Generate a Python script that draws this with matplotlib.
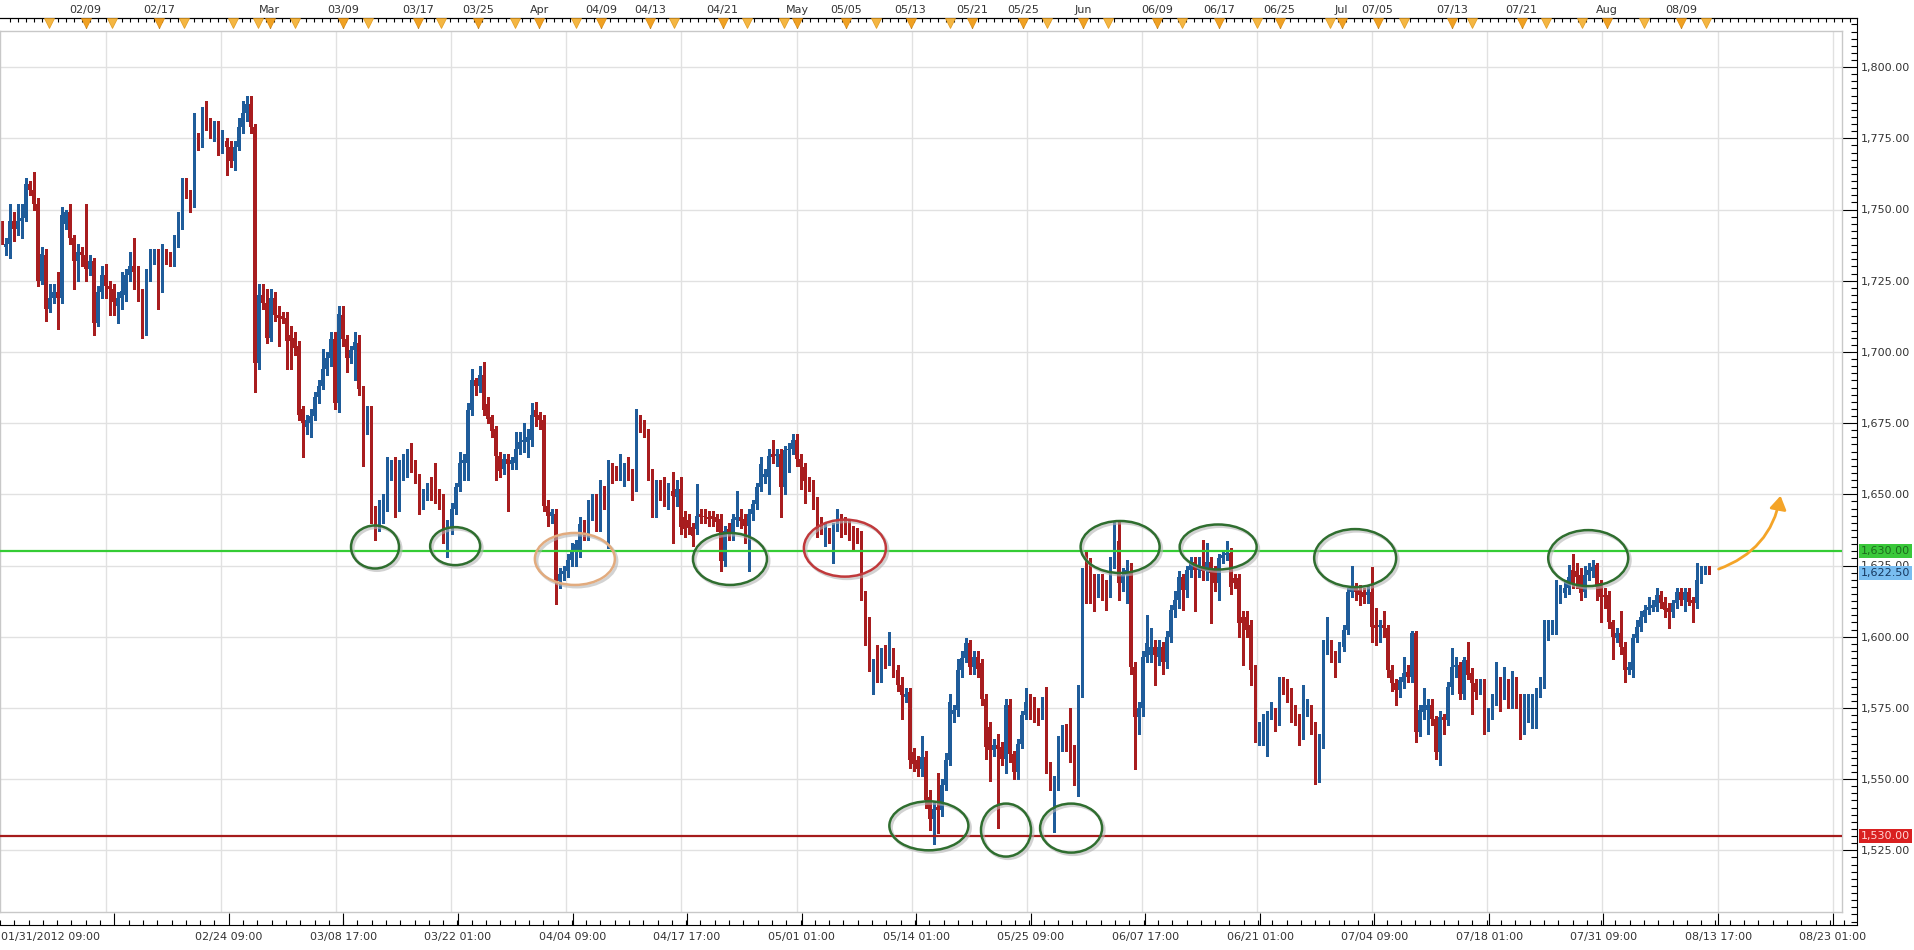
import numpy as np
import matplotlib
matplotlib.use('Agg')
import matplotlib.pyplot as plt
from matplotlib.patches import Ellipse, FancyArrowPatch
from matplotlib import transforms
from matplotlib.ticker import FuncFormatter

# candle data (8h bars)
opens = [1744, 1737, 1738, 1746, 1743, 1746, 1747, 1759, 1757, 1752, 1725, 1734, 1715, 1719, 1721, 1719, 1745, 1749, 1740, 1732,
         1735, 1734, 1729, 1732, 1710, 1721, 1727, 1723, 1722, 1716, 1719, 1720, 1727, 1730, 1728, 1720, 1708, 1727, 1733, 1734,
         1723, 1735, 1734, 1733, 1739, 1745, 1759, 1756, 1753, 1776, 1773, 1783, 1780, 1776, 1779, 1771.5, 1774, 1772, 1767, 1772,
         1779, 1784, 1787, 1779, 1696, 1720, 1717, 1705, 1719, 1713, 1712.5, 1712, 1706, 1705, 1702, 1680, 1673.5, 1675, 1677.6, 1684,
         1688, 1694, 1698, 1704.6, 1682, 1713, 1704.6, 1698, 1700.5, 1703, 1687, 1673, 1679, 1644, 1640, 1643, 1646, 1658.5, 1659.5, 1645.9,
         1659.4, 1661.7, 1664, 1660, 1656, 1646.5, 1650, 1652, 1651, 1650, 1648, 1635.5, 1638.5, 1645, 1652.5, 1661, 1661, 1679.5, 1690, 1688,
         1692, 1681.8, 1677, 1673, 1663.6, 1659, 1662.4, 1660.7, 1661, 1666, 1668.3, 1668.3, 1669, 1679.5, 1677.7, 1676, 1646, 1642.5, 1643, 1619.6,
         1621.9, 1623, 1627, 1630, 1630, 1639.6, 1636, 1643, 1647.8, 1639.6, 1651, 1645.4, 1659.5, 1658.9, 1657.2, 1657.7, 1658.9, 1657.7, 1653.6, 1675.4,
         1674.2, 1671.2, 1657.7, 1644.2, 1653.6, 1651.3, 1648.4, 1651.3, 1649, 1651.9, 1641.9, 1641, 1638.4, 1637.8, 1643.1, 1642.5, 1642, 1642.5, 1641.9, 1641.3,
         1626.6, 1637.8, 1636, 1641, 1641.9, 1641.3, 1639, 1643.1, 1646.6, 1652.5, 1656, 1656, 1664.2, 1663.6, 1664.2, 1652.5, 1665.4, 1666, 1668.9, 1662.4,
         1659.5, 1654.8, 1653, 1647.8, 1640.1, 1637.2, 1636.6, 1634.9, 1638.4, 1641.3, 1640.1, 1637.8, 1637.2, 1637.2, 1635.4, 1615, 1606, 1587, 1590, 1586,
         1594.7, 1592.4, 1594.1, 1588.3, 1583, 1579, 1580.6, 1559.5, 1556.6, 1553.6, 1557.8, 1543.7, 1536, 1540.1, 1539, 1547.8, 1556.6, 1573, 1574.2, 1588.3,
         1592.4, 1597.7, 1589.4, 1593, 1590.6, 1578.3, 1568.3, 1560.1, 1561.9, 1561.3, 1557.2, 1575.9, 1558.9, 1552.5, 1562.4, 1572.4, 1577.7, 1577.1, 1573.6, 1573,
         1576.5, 1554.8, 1548.4, 1548.4, 1562.4, 1566, 1566, 1560.7, 1557.2, 1581.2, 1622.3, 1621.1, 1620, 1618.2, 1620, 1617.6, 1616.4, 1625.8, 1633.5, 1618.8,
         1621.7, 1622.9, 1589.4, 1571.8, 1574.8, 1593, 1593.5, 1596.5, 1593, 1596.5, 1591.2, 1600, 1609.4, 1612.9, 1621.1, 1616.4, 1623.5, 1626.4, 1623.5, 1624.1,
         1622.9, 1626.4, 1623.5, 1618.8, 1627.6, 1628.8, 1629.3, 1620.5, 1620.5, 1607, 1607, 1604.1, 1588.3, 1565.4, 1567.1, 1566, 1573, 1573.6, 1570.7, 1584.2,
         1583.6, 1580, 1573, 1571.8, 1565.4, 1573.6, 1574.8, 1568.3, 1551.9, 1563, 1596.5, 1597.7, 1593.5, 1593, 1596.5, 1602.3, 1615.8, 1617, 1616.4, 1615.8,
         1614.7, 1615.8, 1604.1, 1603.5, 1604.1, 1602.9, 1588.3, 1583.6, 1581.2, 1584.2, 1587.7, 1585.9, 1601.2, 1566.5, 1573.6, 1574.2, 1575.9, 1571.2, 1559.5, 1571.8,
         1570.7, 1582.4, 1589.4, 1590, 1580, 1591.8, 1587.1, 1583.6, 1583, 1583.6, 1569.5, 1573, 1578.3, 1583.6, 1581.2, 1583, 1577.1, 1583.6, 1578.3, 1568.3,
         1577.7, 1578.3, 1578.9, 1580.6, 1583.6, 1601.8, 1603.5, 1603.5, 1614.1, 1615.3, 1617, 1623.5, 1622.9, 1621.7, 1615.8, 1621.7, 1622.9, 1625.2, 1618.8, 1614.7,
         1614.7, 1605.3, 1599.4, 1601.2, 1596.5, 1588.3, 1588.3, 1599.4, 1603.5, 1607, 1609.4, 1610, 1610.6, 1614.7, 1612.3, 1610, 1608.8, 1611.7, 1615.8, 1612.9,
         1615.8, 1612.9, 1611.7, 1620, 1623.5, 1624.1]
highs = [1746, 1740, 1752, 1749, 1752, 1752, 1761, 1760, 1763, 1754, 1737, 1736, 1724, 1724, 1728, 1751, 1750, 1752, 1741, 1738,
         1737, 1752, 1734, 1733, 1723, 1730, 1731, 1725, 1724, 1721, 1728, 1729, 1735, 1740, 1730, 1722, 1729, 1736, 1736, 1736,
         1738, 1736, 1735, 1741, 1749, 1761, 1761, 1757, 1784, 1777, 1786, 1788, 1782, 1781, 1781, 1778, 1775, 1774, 1774, 1782,
         1788, 1790, 1790, 1780, 1724, 1724, 1722, 1722, 1721, 1716, 1714, 1714, 1709, 1707, 1704, 1681, 1678, 1680, 1686, 1690,
         1701, 1700, 1707, 1707, 1716, 1716, 1706, 1702, 1707, 1706, 1688, 1681, 1681, 1646, 1648, 1650, 1663, 1662, 1663, 1662,
         1664, 1666, 1668, 1662, 1657, 1652, 1654, 1656, 1661, 1652, 1650, 1641, 1647, 1654, 1665, 1664, 1682, 1694, 1691, 1695,
         1696.5, 1684, 1678, 1674, 1665, 1664, 1664, 1663, 1672, 1672, 1675, 1673, 1682, 1682.4, 1679, 1678, 1648, 1645, 1645, 1624,
         1625, 1629, 1633, 1634, 1642, 1641, 1648, 1650, 1650, 1655, 1653, 1662, 1661, 1660, 1664, 1661, 1663, 1659, 1680, 1678,
         1676, 1673, 1659, 1655, 1655, 1656, 1654, 1658, 1655, 1656, 1644, 1643, 1640, 1653.6, 1645, 1645, 1644, 1644, 1643, 1643,
         1639, 1640, 1643, 1651, 1645, 1643, 1645, 1648, 1654, 1663, 1659, 1666, 1669, 1666, 1666, 1667, 1668, 1671.2, 1671, 1664,
         1661, 1656, 1655, 1649, 1642, 1640, 1638, 1640, 1645, 1643, 1642, 1641, 1639, 1638, 1637, 1616, 1607, 1592, 1597, 1596,
         1597, 1601.8, 1596, 1590, 1586, 1582, 1582, 1561, 1558, 1565, 1560, 1546, 1542, 1552, 1550, 1559, 1580, 1576, 1592, 1595,
         1599.5, 1599, 1595, 1595, 1592, 1580, 1570, 1564, 1566, 1563, 1578, 1578, 1560, 1564, 1574, 1582, 1580, 1579, 1575, 1579,
         1582.4, 1556, 1551, 1565, 1569, 1569.5, 1575, 1562, 1583, 1624, 1630, 1627.6, 1622, 1622, 1622, 1620, 1628, 1640.5, 1640.5, 1624,
         1627, 1626, 1591, 1577, 1595, 1607.6, 1603, 1599, 1599, 1598, 1602, 1611, 1616, 1623, 1622, 1625, 1628, 1628, 1628, 1634,
         1633, 1628, 1625, 1629, 1630.5, 1633.5, 1631, 1622, 1622, 1609, 1609, 1606, 1590, 1570, 1573, 1574, 1577, 1575, 1586, 1586,
         1585, 1582, 1576, 1573, 1583, 1578, 1576, 1570, 1566, 1599, 1607, 1599, 1595, 1598, 1604, 1617, 1625, 1619, 1618, 1617,
         1618, 1624.6, 1610, 1606, 1609, 1604, 1590, 1585, 1586, 1593, 1590, 1602, 1602, 1576, 1582, 1578, 1578, 1572, 1574, 1573,
         1584, 1596, 1593, 1591, 1593, 1598, 1589, 1585, 1585, 1585, 1575, 1580, 1591, 1586, 1589.4, 1585, 1588, 1586, 1580, 1580,
         1580, 1580, 1582, 1586, 1606, 1606, 1606, 1620, 1618, 1620, 1625.2, 1629, 1626, 1624, 1625, 1626, 1627, 1626, 1620, 1617,
         1616, 1606, 1603, 1609, 1598, 1591, 1601, 1606, 1609, 1611, 1614, 1613, 1617, 1616, 1614, 1612, 1613, 1617, 1617, 1617,
         1617, 1614, 1626, 1625, 1625, 1625]
lows = [1738, 1734, 1733, 1739, 1741, 1740, 1746, 1755, 1750, 1723, 1724, 1711, 1714, 1717, 1708, 1717, 1743, 1738, 1722, 1725,
        1730, 1725, 1727, 1706, 1709, 1719, 1719, 1713, 1713, 1710, 1715, 1718, 1725, 1722, 1718, 1705, 1706, 1725, 1731, 1715,
        1721, 1731, 1730, 1730, 1737, 1743, 1754, 1749, 1751, 1771, 1772, 1778, 1775, 1774, 1769, 1770, 1762, 1765, 1764, 1771,
        1777, 1781, 1777, 1686, 1694, 1715, 1703, 1704, 1711, 1702, 1710, 1694, 1694, 1699, 1676, 1663, 1671, 1670, 1676, 1682,
        1687, 1692, 1695, 1680, 1679, 1702, 1693, 1696, 1690, 1685, 1660, 1671, 1640, 1634, 1637, 1640, 1644, 1655, 1642, 1644,
        1655, 1656, 1658, 1654, 1643, 1645, 1648, 1648, 1647, 1645, 1633, 1628, 1636, 1643, 1651, 1655, 1655, 1678, 1685, 1686,
        1678, 1675, 1670, 1655, 1656, 1657, 1644, 1659, 1659, 1664, 1665, 1663, 1667, 1674, 1673, 1644, 1639, 1640, 1611.4, 1617,
        1620, 1621, 1625, 1625, 1628, 1634, 1634, 1641, 1637, 1637, 1645, 1631, 1654, 1655, 1655, 1653, 1655, 1648, 1651, 1672,
        1670, 1655, 1642, 1642, 1648, 1646, 1645, 1633, 1646, 1636, 1635, 1636, 1632, 1636, 1640, 1640, 1639, 1639, 1637, 1623,
        1625, 1634, 1634, 1639, 1638, 1633, 1623, 1641, 1645, 1651, 1654, 1650, 1661, 1660, 1642, 1650, 1658, 1664, 1660, 1652,
        1647, 1651, 1645, 1635, 1636, 1632, 1633, 1626, 1637, 1635, 1636, 1634, 1630, 1633, 1613, 1597, 1588, 1580, 1584, 1584,
        1589, 1590, 1586, 1581, 1571, 1577, 1554, 1553, 1551, 1551, 1540, 1532, 1527.2, 1531, 1537, 1546, 1555, 1570, 1572, 1586,
        1591, 1587, 1587, 1586, 1576, 1557, 1549.5, 1558, 1533, 1555, 1552, 1556, 1550, 1550, 1561, 1571, 1571, 1570, 1569, 1571,
        1552, 1546, 1531.3, 1546, 1560, 1560, 1556, 1548, 1544, 1579, 1612, 1612, 1609, 1614, 1613, 1609.4, 1614, 1624, 1613, 1616,
        1612, 1587, 1553.6, 1566, 1572, 1591, 1591, 1583, 1590, 1587, 1589, 1598, 1607, 1610, 1609.4, 1614, 1621, 1609, 1621, 1620,
        1620, 1604.7, 1616, 1613, 1626, 1627, 1615, 1617, 1600, 1590, 1600, 1583, 1563, 1562, 1562, 1558, 1571, 1567, 1569, 1580,
        1577, 1570, 1569, 1562, 1564, 1572, 1566, 1548.4, 1549, 1561, 1594, 1591, 1586, 1591, 1595, 1601, 1614, 1613, 1611, 1612,
        1612, 1598, 1597, 1598, 1600, 1586, 1581, 1576, 1579, 1582, 1584, 1584, 1563, 1565, 1571, 1566, 1569, 1557, 1555, 1566,
        1569, 1580, 1586, 1578, 1578, 1585, 1573, 1578, 1580, 1566, 1567, 1571, 1576, 1574, 1578, 1575, 1575, 1575, 1564, 1566,
        1570, 1568, 1568, 1579, 1582, 1599, 1601, 1601, 1612, 1614, 1615, 1617, 1617, 1613, 1614, 1620, 1621, 1613, 1605, 1610,
        1603, 1592, 1598, 1594, 1584, 1587, 1586, 1598, 1602, 1605, 1608, 1609, 1609, 1610, 1607, 1603, 1607, 1610, 1611, 1609,
        1611, 1605, 1610, 1619, 1622, 1622]
closes = [1740, 1738, 1746, 1743, 1746, 1747, 1759, 1757, 1752, 1725, 1734.5, 1715, 1719, 1721, 1719, 1748, 1749, 1740, 1732, 1735,
          1734, 1729, 1732, 1710, 1721, 1727, 1723, 1722, 1717.5, 1719, 1721.5, 1727, 1730, 1728, 1720, 1708, 1727.5, 1733, 1734, 1723,
          1735, 1734, 1733, 1739, 1745, 1759, 1756, 1753, 1776, 1773, 1784, 1780, 1777, 1779, 1771.5, 1773, 1772, 1767, 1772, 1779,
          1784, 1787, 1779, 1696, 1720, 1717, 1705, 1719, 1713, 1712, 1711.5, 1704, 1704, 1701.5, 1678, 1675, 1676, 1677.6, 1684, 1688,
          1694, 1698, 1704.6, 1682, 1713.4, 1704.6, 1698, 1700.5, 1703.4, 1687, 1673, 1679, 1644, 1637, 1644, 1646.5, 1659, 1659.5, 1645, 1659.4,
          1661.7, 1663.5, 1660, 1656, 1646, 1650, 1652, 1651, 1649.5, 1648, 1635.5, 1638.5, 1645, 1652.5, 1661, 1662, 1679.5, 1690, 1688, 1692,
          1679.5, 1676.5, 1672.4, 1663.6, 1658.3, 1662.4, 1660.7, 1661.9, 1666, 1668.3, 1668.9, 1670, 1677.7, 1677, 1676, 1646, 1642.5, 1643.7, 1619.6, 1621.9,
          1623, 1627, 1630, 1632.5, 1639.6, 1636, 1646, 1647.2, 1639.6, 1651.3, 1648.4, 1659.5, 1656, 1657.2, 1658.3, 1658.9, 1657.2, 1653.6, 1676.5, 1673.6,
          1671.2, 1657.7, 1644.2, 1653.6, 1650.7, 1647.8, 1651.3, 1649.5, 1651.9, 1638.4, 1637.8, 1638, 1635.4, 1642.5, 1641.9, 1641.9, 1641.9, 1641.3, 1640.1, 1626.6,
          1637.2, 1636, 1641.3, 1642, 1640.7, 1639, 1643.1, 1646.6, 1652.5, 1660.7, 1657.2, 1663.6, 1663, 1664.2, 1652.5, 1665.4, 1666, 1668.9, 1662.4, 1659.5,
          1654.8, 1653, 1647.8, 1638.4, 1638.4, 1638.4, 1634.9, 1638.4, 1639.6, 1637.2, 1637.8, 1636.6, 1636.6, 1635.4, 1614.9, 1606, 1590, 1590, 1586, 1594.7,
          1593, 1594.1, 1588.3, 1583, 1579.5, 1580, 1556.6, 1555.4, 1553.6, 1557.8, 1542.5, 1536, 1539.6, 1539, 1547.8, 1556.6, 1577.1, 1574.2, 1588.3, 1592.4,
          1597.7, 1589.4, 1593, 1588.8, 1578.3, 1561.3, 1560.1, 1561.9, 1560.7, 1557.2, 1575.9, 1558.9, 1552.5, 1562.4, 1572.4, 1577.1, 1576.5, 1572.4, 1571.2, 1576.5,
          1554.8, 1548.4, 1548.9, 1563.6, 1564.2, 1562.4, 1560.1, 1557.2, 1581.2, 1622.3, 1620, 1618.8, 1618.2, 1620, 1617.6, 1616.4, 1625.8, 1633.5, 1618.8, 1621.7,
          1623.5, 1589.4, 1571.8, 1574.8, 1593, 1597.7, 1596.5, 1593.5, 1596.5, 1591.2, 1600, 1609.4, 1612.9, 1621.1, 1616.4, 1623.5, 1626.4, 1623.5, 1624.6, 1622.9,
          1626.4, 1622.3, 1618.8, 1627.6, 1628.8, 1629.3, 1617.6, 1618.8, 1604.7, 1604.7, 1602.3, 1588.3, 1565.4, 1568.3, 1571.8, 1573, 1573.6, 1570.7, 1584.2, 1583,
          1579.5, 1572.4, 1571.2, 1565.4, 1574.2, 1574.8, 1568.3, 1551.9, 1563, 1597.1, 1597.7, 1593, 1592.4, 1596.5, 1602.3, 1615.8, 1617, 1615.8, 1614.7, 1614.1,
          1615.8, 1603.5, 1602.9, 1604.1, 1602.9, 1588.3, 1583.6, 1581.2, 1584.7, 1587.1, 1585.9, 1601.2, 1566.5, 1574.2, 1575.9, 1575.9, 1571.2, 1559.5, 1571.8, 1570.7,
          1582.4, 1589.4, 1590, 1580, 1591.8, 1586.5, 1583.6, 1580.6, 1583.6, 1569.5, 1573, 1578.3, 1583.6, 1581.2, 1582.4, 1577.1, 1583.6, 1577.7, 1568.3, 1577.7,
          1578.3, 1578.9, 1580.6, 1583.6, 1601.8, 1604.1, 1604.1, 1614.1, 1615.3, 1617, 1621.1, 1618.8, 1621.1, 1615.3, 1621.7, 1623.5, 1624.6, 1617.6, 1614.1, 1614.1,
          1605.3, 1600, 1601.2, 1596.5, 1588.3, 1589.4, 1599.4, 1603.5, 1607, 1609.4, 1610.6, 1611.2, 1614.7, 1611.7, 1609.4, 1608.8, 1611.7, 1615.8, 1612.9, 1615.8,
          1612.3, 1611.7, 1620, 1623.5, 1624.1, 1622.5]

# axis labels (positions in bar index)
bottom_pos = [26.0, 54.6, 83.3, 111.9, 140.6, 169.2, 197.9, 226.5, 255.2, 283.8, 312.5, 341.1, 369.8, 398.4, 427.1, 455.7]
bottom_labels = ['', '02/24 09:00', '03/08 17:00', '03/22 01:00', '04/04 09:00', '04/17 17:00', '05/01 01:00', '05/14 01:00',
                 '05/25 09:00', '06/07 17:00', '06/21 01:00', '07/04 09:00', '07/18 01:00', '07/31 09:00', '08/13 17:00', '08/23 01:00']
first_label = '01/31/2012 09:00'
top_pos = [18.8, 37.2, 64.8, 83.3, 101.9, 116.9, 132.3, 147.7, 159.9, 178.1, 196.8, 208.9, 225.1, 240.5, 253.2,
           268.2, 286.8, 302.3, 317.4, 332.9, 341.9, 360.5, 377.9, 399.3, 417.8]
top_labels = ['02/09', '02/17', 'Mar', '03/09', '03/17', '03/25', 'Apr', '04/09', '04/13', '04/21', 'May', '05/05', '05/13',
              '05/21', '05/25', 'Jun', '06/09', '06/17', '06/25', 'Jul', '07/05', '07/13', '07/21', 'Aug', '08/09']
event_pos = [9.6, 25.3, 43.4, 55.6, 61.8, 71.1, 89.5, 107.6, 126.1, 141.5, 165.9, 184.3, 193.5, 216.4, 235.1, 259.2,
             274.6, 293.1, 311.7, 329.9, 348.6, 365.5, 383.9, 393.1, 408.5, 424.0]

resistance = 1630.0
support = 1530.0
last_price = 1622.5

# circled touches: (bar index, price, width px, height px, colour)
circles = [(92.96, 1631.5, 48, 43, '#2f6e2f'), (112.9, 1631.8, 50, 38, '#2f6e2f'), (142.7, 1627.3, 80, 52, '#e2ab7e'),
           (181.3, 1627.3, 74, 52, '#2f6e2f'), (209.9, 1631.1, 82, 57, '#c0393b'), (230.8, 1533.6, 79, 49, '#2f6e2f'),
           (250.0, 1532.1, 50, 53, '#2f6e2f'), (266.2, 1532.8, 62, 49, '#2f6e2f'), (278.4, 1631.5, 79, 52, '#2f6e2f'),
           (302.8, 1631.5, 77, 45, '#2f6e2f'), (336.9, 1627.6, 82, 58, '#2f6e2f'), (394.9, 1627.6, 80, 56, '#2f6e2f')]

W, H = 1914, 950
DX = 4.018      # px per bar
X0 = 1.5        # px of first bar
PPU = 2.848     # px per price point
Y1600 = 636.7   # px row of 1600


def px2idx(px):
    return (px - X0) / DX


def py2price(py):
    return 1600 + (Y1600 - py) / PPU


BLUE = '#1f5c9a'
RED = '#a81d1f'
TXT = '#333333'
plt.rcParams['font.family'] = ['DejaVu Sans']

fig = plt.figure(figsize=(W / 100, H / 100), dpi=100)
FR_R, FR_T, FR_B = 1857, 18, 925
AX_R, AX_T, AX_B = 1842, 31, 912
fr = fig.add_axes([0, 1 - FR_B / H, FR_R / W, (FR_B - FR_T) / H])
ax = fig.add_axes([0, 1 - AX_B / H, AX_R / W, (AX_B - AX_T) / H])
fr.set_zorder(0)
ax.set_zorder(1)

fr.set_xlim(px2idx(0), px2idx(FR_R))
fr.set_ylim(py2price(FR_B), py2price(FR_T))
ax.set_xlim(px2idx(0), px2idx(AX_R))
ax.set_ylim(py2price(AX_B), py2price(AX_T))

# candles
o = np.array(opens, float)
h = np.array(highs, float)
l = np.array(lows, float)
c = np.array(closes, float)
x = np.arange(len(o))
up = c >= o
col = np.where(up, BLUE, RED)
ax.vlines(x, l, h, colors=col, lw=1.0, zorder=2, antialiased=False)
body = c - o
body = np.where(np.abs(body) < 0.5, np.where(up, 0.5, -0.5), body)
ax.bar(x, body, bottom=o, width=0.8, color=col, linewidth=0, zorder=2.1, antialiased=False)

# grid + plot frame
ax.set_xticks(bottom_pos)
ax.set_yticks(np.arange(1525, 1801, 25))
ax.grid(True, color='#e1e1e1', lw=1)
ax.set_axisbelow(True)
ax.tick_params(length=0, labelbottom=False, labelleft=False)
for s in ax.spines.values():
    s.set_color('#c8c8c8')
    s.set_linewidth(1)

ax.axhline(resistance, color='#35cc35', lw=1.6, zorder=3)
ax.axhline(support, color='#a51c1c', lw=1.6, zorder=3)

for cx, cy, wpx, hpx, ec in circles:
    shadow_tr = transforms.offset_copy(ax.transData, fig=fig, x=2, y=-2, units='dots')
    ax.add_patch(Ellipse((cx, cy), wpx / DX, hpx / PPU, fill=False, ec='#b5b5b5', lw=2.2, alpha=0.6,
                         transform=shadow_tr, zorder=3.5))
    ax.add_patch(Ellipse((cx, cy), wpx / DX, hpx / PPU, fill=False, ec=ec, lw=1.8, zorder=4))

arrow = FancyArrowPatch((px2idx(1716), py2price(570)), (px2idx(1781), py2price(493)),
                        connectionstyle='arc3,rad=0.3', arrowstyle='-|>,head_length=8,head_width=5',
                        color='#f4a428', lw=2.0, mutation_scale=1, zorder=5, clip_on=False)
ax.add_patch(arrow)

# outer axis: right price scale and bottom time scale
fr.spines['left'].set_visible(False)
for s in ['top', 'right', 'bottom']:
    fr.spines[s].set_color('black')
    fr.spines[s].set_linewidth(0.8)

fr.set_xticks(bottom_pos)
fr.set_xticklabels(bottom_labels)
step = (bottom_pos[1] - bottom_pos[0]) / 8
fr.set_xticks(np.arange(bottom_pos[0] - 8 * step, px2idx(FR_R), step), minor=True)
fr.tick_params(axis='x', which='major', direction='in', length=8.6, width=0.8, pad=5,
               labelsize=8, labelcolor=TXT)
fr.tick_params(axis='x', which='minor', direction='in', length=3.6, width=0.8)
fr.annotate(first_label, xy=(0, 0), xycoords='axes fraction', xytext=(0.5, -5), textcoords='offset points',
            ha='left', va='top', fontsize=8, color=TXT)

# top date scale with event markers
top = fr.twiny()
top.set_zorder(2)
top.set_xlim(fr.get_xlim())
for s in ['left', 'right', 'bottom']:
    top.spines[s].set_visible(False)
top.spines['top'].set_linewidth(0.8)
top.set_xticks(top_pos)
top.set_xticklabels(top_labels)
top.set_xticks(np.arange(0, px2idx(FR_R), 2), minor=True)
top.tick_params(axis='x', which='major', direction='in', length=7, width=0.8, pad=2, labelsize=8, labelcolor=TXT)
top.tick_params(axis='x', which='minor', direction='in', length=3.2, width=0.8)
tri_y = 1 - 5 / (FR_B - FR_T)
btr = transforms.blended_transform_factory(top.transData, top.transAxes)
top.plot(event_pos, [tri_y] * len(event_pos), 'v', ms=6.5, color='#f4b642', mec='#e29a1c', mew=0.5,
         transform=btr, clip_on=False, zorder=3)
top.plot(top_pos, [tri_y] * len(top_pos), 'v', ms=7.5, color='#f0a122', mec='#d98a10', mew=0.5,
         transform=btr, clip_on=False, zorder=3)

# right price scale (set after twiny so the shared y axis keeps these ticks)
fr.yaxis.set_visible(True)
fr.yaxis.tick_right()
fr.set_yticks(np.arange(1525, 1801, 25))
fr.set_yticks(np.arange(1500, 1817, 2.5), minor=True)
fr.yaxis.set_major_formatter(FuncFormatter(lambda v, p: f'{v:,.2f}'))
fr.tick_params(axis='y', which='major', direction='in', length=10.8, width=0.8, pad=3,
               labelsize=8, labelcolor=TXT, right=True, left=False, labelright=True, labelleft=False)
fr.tick_params(axis='y', which='minor', direction='in', length=4.3, width=0.8, right=True, left=False)
top.yaxis.set_visible(False)

# price tags on the right scale
ttr = transforms.blended_transform_factory(fr.transAxes, fr.transData)
for val, fc, tc in [(resistance, '#3ac83a', '#1d6b1d'), (last_price, '#79bdf0', '#15375f'), (support, '#d92020', '#ffd6d6')]:
    fr.text(1 + 3.5 / FR_R, val, f'{val:,.2f}', transform=ttr, ha='left', va='center', fontsize=8, color=tc,
            bbox=dict(boxstyle='square,pad=0.18', fc=fc, ec='none'), zorder=6)

plt.savefig('out.png', dpi=100)
